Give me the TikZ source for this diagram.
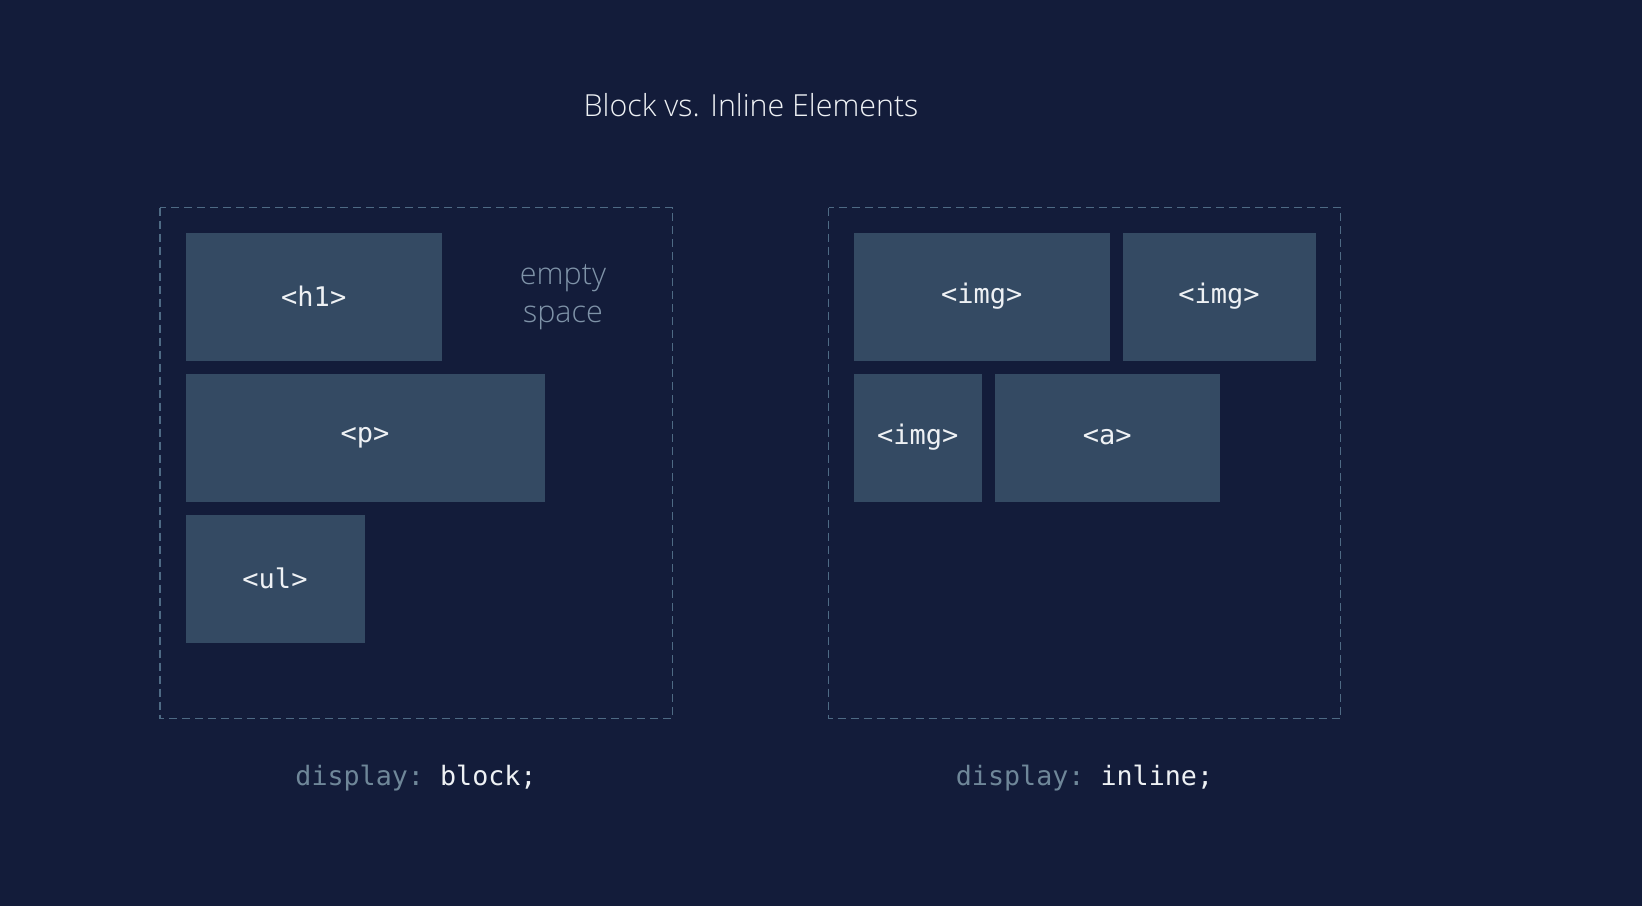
\documentclass[tikz,border=0pt]{standalone}
\usepackage{fontspec}
\setmainfont{Open Sans Light}
\setmonofont{DejaVu Sans Mono}
\definecolor{bg}{HTML}{131C3A}
\definecolor{boxfill}{HTML}{344A63}
\definecolor{dashc}{HTML}{4E6A84}
\definecolor{mutedtxt}{HTML}{6F8799}
\definecolor{emptytxt}{HTML}{7F93A8}
\definecolor{whitetxt}{HTML}{EEF1F4}
\begin{document}
\begin{tikzpicture}[x=1pt,y=-1pt,
  elbox/.style={fill=boxfill, draw=none, inner sep=0pt, outer sep=0pt, anchor=north west,
    font=\ttfamily\fontsize{27}{32}\selectfont, text=whitetxt},
  container/.style={draw=dashc, line width=1.4pt, dash pattern=on 8pt off 5pt},
  codelbl/.style={font=\ttfamily\fontsize{26.7}{32}\selectfont, text=whitetxt}]
\fill[bg] (0,0) rectangle (1642,906);
\useasboundingbox (0,0) rectangle (1642,906);
\node[font=\fontsize{30.4}{36}\selectfont, text=whitetxt] (title) at (751,105) {Block vs. Inline Elements};
% left container
\draw[container] (160,207.5) rectangle (672.5,718.5);
\node[elbox, minimum width=256.5pt, minimum height=128pt] (h1) at (185.5,232.5) {<h1>};
\node[elbox, minimum width=359pt, minimum height=128pt] (p) at (185.5,373.5) {<p>};
\node[elbox, minimum width=179pt, minimum height=128pt] (ul) at (185.5,514.5) {<ul>};
\node[align=center, text=emptytxt, font=\fontsize{30.5}{38}\selectfont] (empty) at (563,297) {empty\\space};
% right container
\draw[container] (828.5,207.5) rectangle (1340.5,718.5);
\node[elbox, minimum width=256.5pt, minimum height=128pt] (img1) at (853.5,232.5) {<img>};
\node[elbox, minimum width=193pt, minimum height=128pt] (img2) at (1122.5,232.5) {<img>};
\node[elbox, minimum width=128.5pt, minimum height=128pt] (img3) at (853.5,373.5) {<img>};
\node[elbox, minimum width=224.5pt, minimum height=128pt] (a) at (995,373.5) {<a>};
% labels
\node[codelbl] (lbl1) at (416,778) {\textcolor{mutedtxt}{display:} block;};
\node[codelbl] (lbl2) at (1084.5,778) {\textcolor{mutedtxt}{display:} inline;};
\end{tikzpicture}
\end{document}
